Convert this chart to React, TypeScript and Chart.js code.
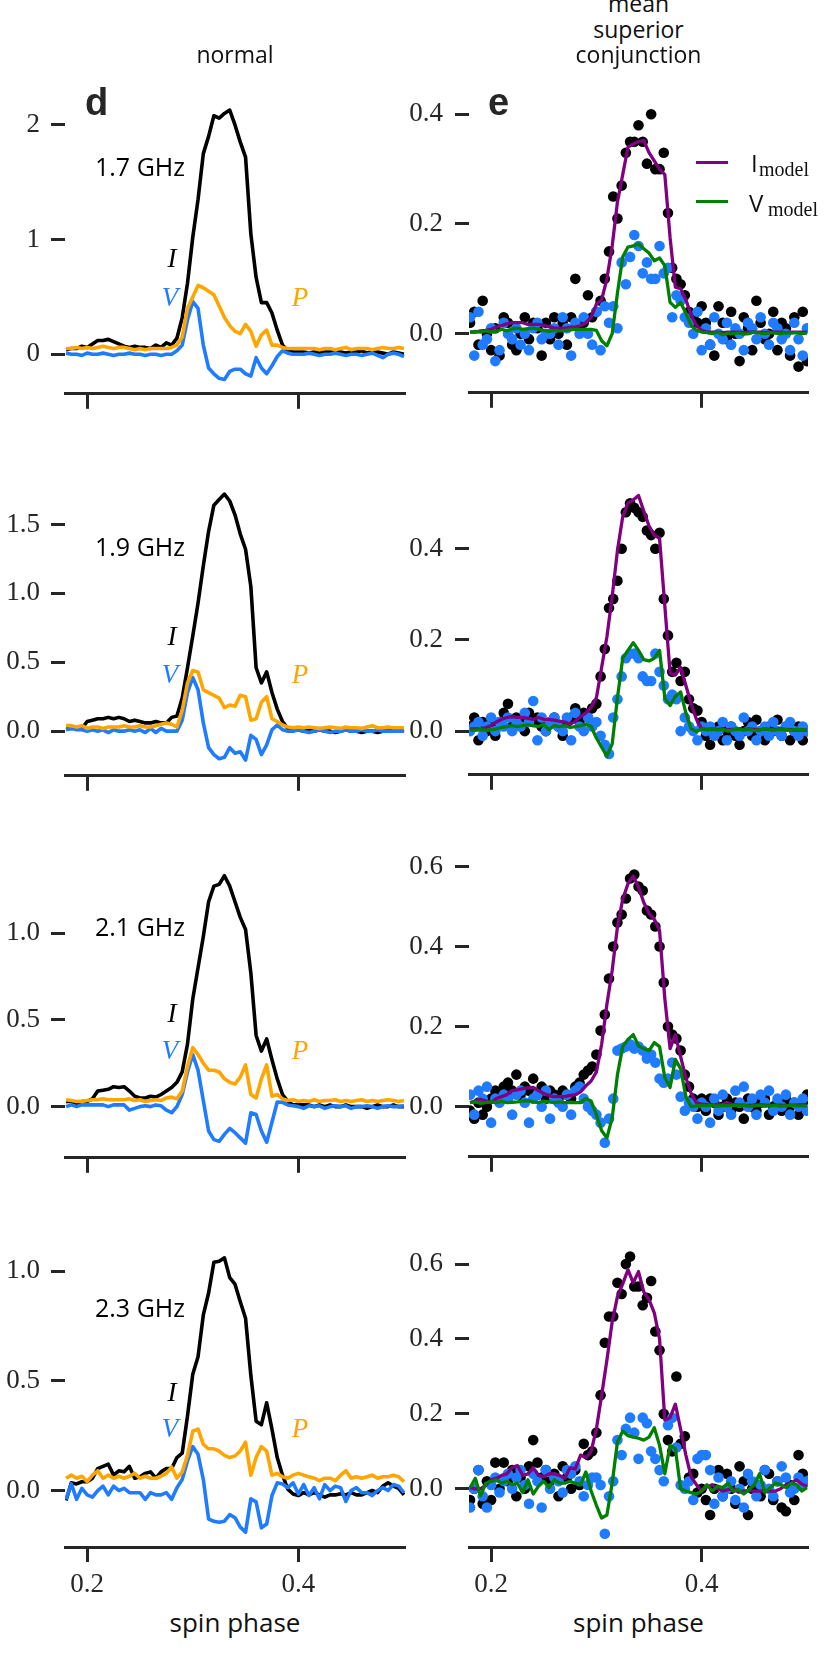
import React, { useEffect, useRef } from "react";
import { Chart, registerables } from "chart.js";

Chart.register(...registerables);

// phase grids: profiles are binned at 0.005, the data points at 0.004
const PHASE_LINE = [
  0.18, 0.185, 0.19, 0.195, 0.2, 0.205, 0.21, 0.215, 0.22, 0.225, 0.23, 0.235, 0.24, 0.245, 0.25, 0.255,
  0.26, 0.265, 0.27, 0.275, 0.28, 0.285, 0.29, 0.295, 0.3, 0.305, 0.31, 0.315, 0.32, 0.325, 0.33, 0.335,
  0.34, 0.345, 0.35, 0.355, 0.36, 0.365, 0.37, 0.375, 0.38, 0.385, 0.39, 0.395, 0.4, 0.405, 0.41, 0.415,
  0.42, 0.425, 0.43, 0.435, 0.44, 0.445, 0.45, 0.455, 0.46, 0.465, 0.47, 0.475, 0.48, 0.485, 0.49, 0.495, 0.5,
];
const PHASE_DOT = [
  0.18, 0.184, 0.188, 0.192, 0.196, 0.2, 0.204, 0.208, 0.212, 0.216, 0.22, 0.224, 0.228, 0.232, 0.236, 0.24,
  0.244, 0.248, 0.252, 0.256, 0.26, 0.264, 0.268, 0.272, 0.276, 0.28, 0.284, 0.288, 0.292, 0.296, 0.3, 0.304,
  0.308, 0.312, 0.316, 0.32, 0.324, 0.328, 0.332, 0.336, 0.34, 0.344, 0.348, 0.352, 0.356, 0.36, 0.364, 0.368,
  0.372, 0.376, 0.38, 0.384, 0.388, 0.392, 0.396, 0.4, 0.404, 0.408, 0.412, 0.416, 0.42, 0.424, 0.428, 0.432,
  0.436, 0.44, 0.444, 0.448, 0.452, 0.456, 0.46, 0.464, 0.468, 0.472, 0.476, 0.48, 0.484, 0.488, 0.492, 0.496, 0.5,
];

const FREQS = ["1.7 GHz", "1.9 GHz", "2.1 GHz", "2.3 GHz"];
const X_TICKS = [0.2, 0.4];
const LEFT_TICKS = [[0, 1, 2], [0, 0.5, 1, 1.5], [0, 0.5, 1], [0, 0.5, 1]];
const RIGHT_TICKS = [[0, 0.2, 0.4], [0, 0.2, 0.4], [0, 0.2, 0.4, 0.6], [0, 0.2, 0.4, 0.6]];

// ---- normal profiles (left column) ----
const I_17 = [
  0.04, 0.05, 0.05, 0.07, 0.06, 0.09, 0.12, 0.12, 0.13, 0.11, 0.09, 0.07, 0.06, 0.07, 0.06, 0.06, 0.05, 0.08, 0.06, 0.1, 0.08,
  0.14, 0.32, 0.62, 1.02, 1.35, 1.75, 1.9, 2.08, 2.06, 2.1, 2.13, 2.0, 1.85, 1.72, 1.05, 0.67, 0.45, 0.45, 0.36, 0.21, 0.08, 0.03, 0.02, 0.02,
  0.02, 0.01, 0.02, 0.01, 0.02, 0.02, 0.03, 0.02, 0.01, 0.02, 0.02, 0.03, 0.01, 0.02, 0.02, 0.01, 0.0, 0.02, 0.01, 0.0,
];
const V_17 = [
  0.01, 0.0, 0.0, -0.01, 0.01, 0.0, 0.0, 0.01, 0.0, -0.01, 0.0, 0.0, 0.01, 0.0, 0.0, -0.01, 0.0, 0.0, -0.01, 0.0, 0.0,
  0.03, 0.08, 0.3, 0.46, 0.4, 0.08, -0.12, -0.17, -0.21, -0.22, -0.15, -0.13, -0.13, -0.17, -0.19, -0.03, -0.12, -0.17, -0.1, -0.02, 0.03, 0.01, 0.0, 0.0,
  0.0, 0.01, 0.0, -0.01, 0.0, 0.0, 0.01, 0.0, -0.01, 0.0, 0.0, -0.01, 0.0, 0.01, -0.01, -0.03, 0.0, 0.01, 0.0, -0.02,
];
const P_17 = [
  0.05, 0.05, 0.06, 0.05, 0.06, 0.05, 0.06, 0.07, 0.06, 0.05, 0.06, 0.06, 0.05, 0.04, 0.05, 0.04, 0.05, 0.05, 0.05, 0.05, 0.06,
  0.08, 0.15, 0.4, 0.5, 0.6, 0.58, 0.55, 0.52, 0.42, 0.32, 0.25, 0.2, 0.18, 0.26, 0.2, 0.07, 0.17, 0.21, 0.08, 0.08, 0.06, 0.05, 0.05, 0.05,
  0.05, 0.05, 0.05, 0.04, 0.05, 0.05, 0.04, 0.05, 0.06, 0.04, 0.05, 0.05, 0.05, 0.04, 0.05, 0.06, 0.05, 0.05, 0.06, 0.05,
];
const I_19 = [
  0.02, 0.02, 0.03, 0.02, 0.07, 0.08, 0.09, 0.09, 0.1, 0.09, 0.1, 0.09, 0.07, 0.08, 0.07, 0.06, 0.06, 0.07, 0.06, 0.06, 0.1,
  0.11, 0.24, 0.46, 0.69, 0.93, 1.2, 1.45, 1.64, 1.68, 1.72, 1.67, 1.57, 1.43, 1.32, 1.05, 0.46, 0.35, 0.43, 0.28, 0.16, 0.07, 0.02, 0.01, 0.01,
  0.0, 0.01, 0.0, 0.01, 0.0, 0.0, -0.01, 0.0, 0.01, 0.0, 0.0, -0.01, 0.0, 0.0, -0.01, 0.0, 0.0, 0.01, 0.0, 0.01,
];
const V_19 = [
  0.01, 0.02, 0.01, 0.01, 0.0, 0.01, 0.0, 0.01, -0.01, 0.01, 0.0, 0.0, 0.01, 0.0, 0.01, -0.01, 0.02, -0.01, 0.02, 0.0, 0.0,
  0.0, 0.08, 0.28, 0.39, 0.3, 0.06, -0.12, -0.17, -0.2, -0.19, -0.12, -0.16, -0.15, -0.21, -0.03, -0.06, -0.17, -0.1, 0.01, 0.045, 0.01, 0.0, 0.0, 0.01,
  0.0, -0.01, 0.0, 0.01, 0.0, -0.01, 0.0, 0.0, 0.01, 0.0, 0.0, 0.01, 0.0, 0.0, 0.01, 0.0, 0.0, 0.0, 0.0, 0.0,
];
const P_19 = [
  0.04, 0.04, 0.03, 0.04, 0.02, 0.03, 0.03, 0.02, 0.03, 0.03, 0.03, 0.04, 0.03, 0.03, 0.04, 0.03, 0.03, 0.04, 0.05, 0.06, 0.05,
  0.03, 0.15, 0.35, 0.44, 0.43, 0.3, 0.28, 0.26, 0.24, 0.17, 0.19, 0.18, 0.26, 0.25, 0.08, 0.09, 0.21, 0.25, 0.09, 0.07, 0.045, 0.03, 0.025, 0.03,
  0.025, 0.03, 0.025, 0.02, 0.025, 0.03, 0.025, 0.02, 0.03, 0.025, 0.025, 0.02, 0.03, 0.04, 0.025, 0.025, 0.03, 0.025, 0.025, 0.025,
];
const I_21 = [
  0.03, 0.03, 0.02, 0.03, 0.03, 0.045, 0.09, 0.095, 0.1, 0.115, 0.11, 0.115, 0.09, 0.06, 0.05, 0.05, 0.06, 0.055, 0.07, 0.09, 0.11,
  0.14, 0.2, 0.36, 0.62, 0.8, 0.98, 1.18, 1.27, 1.28, 1.33, 1.27, 1.18, 1.09, 1.02, 0.77, 0.41, 0.32, 0.39, 0.27, 0.16, 0.07, 0.03, 0.01, 0.01,
  0.01, 0.01, 0.0, 0.01, 0.0, 0.01, 0.0, 0.0, 0.01, 0.0, 0.0, 0.0, -0.01, 0.0, 0.01, 0.0, 0.0, 0.01, 0.0, 0.0,
];
const V_21 = [
  0.0, 0.01, 0.0, 0.01, 0.01, 0.01, 0.01, 0.01, 0.0, 0.01, 0.01, 0.01, -0.02, -0.01, 0.0, 0.005, 0.0, 0.01, 0.005, -0.02, -0.035,
  0.0, 0.07, 0.2, 0.3, 0.21, 0.035, -0.14, -0.19, -0.2, -0.16, -0.125, -0.15, -0.18, -0.21, -0.035, -0.045, -0.14, -0.205, -0.09, 0.027, 0.025, 0.01, 0.005, 0.0,
  -0.01, 0.005, 0.0, 0.005, -0.01, 0.0, 0.005, 0.0, 0.005, -0.01, 0.0, 0.0, 0.005, 0.0, -0.01, 0.0, 0.005, 0.0, 0.0, 0.005,
];
const P_21 = [
  0.04, 0.035, 0.03, 0.03, 0.035, 0.04, 0.04, 0.045, 0.04, 0.04, 0.04, 0.04, 0.045, 0.035, 0.04, 0.03, 0.035, 0.04, 0.035, 0.05, 0.055,
  0.045, 0.09, 0.23, 0.34, 0.3, 0.25, 0.21, 0.21, 0.2, 0.16, 0.14, 0.13, 0.17, 0.24, 0.07, 0.05, 0.16, 0.24, 0.06, 0.07, 0.045, 0.035, 0.04, 0.03,
  0.035, 0.03, 0.04, 0.03, 0.035, 0.035, 0.04, 0.03, 0.035, 0.03, 0.035, 0.04, 0.03, 0.035, 0.03, 0.035, 0.04, 0.035, 0.03, 0.035,
];
const I_23 = [
  -0.045, 0.035, 0.03, 0.04, 0.04, 0.056, 0.1, 0.11, 0.12, 0.07, 0.09, 0.085, 0.11, 0.056, 0.063, 0.078, 0.085, 0.056, 0.085, 0.1, 0.1,
  0.15, 0.17, 0.34, 0.53, 0.61, 0.8, 0.9, 1.04, 1.045, 1.06, 0.97, 0.94, 0.86, 0.785, 0.525, 0.316, 0.3, 0.4, 0.28, 0.15, 0.07, 0.006, -0.016, -0.023,
  -0.01, -0.02, -0.01, -0.02, -0.03, -0.02, -0.02, -0.015, -0.02, -0.01, -0.02, -0.02, -0.01, 0.0, -0.01, 0.02, 0.035, 0.02, 0.01, -0.02,
];
const V_23 = [
  -0.04, 0.03, -0.04, 0.01, -0.02, -0.03, 0.0, 0.02, -0.02, 0.02, 0.0, 0.01, -0.01, -0.01, -0.01, -0.04, -0.01, -0.02, -0.02, -0.01, -0.04,
  0.013, 0.05, 0.135, 0.2, 0.165, 0.05, -0.13, -0.14, -0.145, -0.14, -0.11, -0.124, -0.167, -0.19, -0.038, -0.052, -0.17, -0.153, -0.023, 0.035, 0.03, 0.013, 0.035, -0.016,
  0.027, -0.023, 0.013, -0.038, 0.027, 0.0, 0.02, 0.013, -0.05, 0.0, 0.013, -0.01, -0.01, -0.023, 0.0, 0.013, 0.0, 0.027, 0.02, -0.01,
];
const P_23 = [
  0.056, 0.07, 0.056, 0.065, 0.04, 0.07, 0.09, 0.056, 0.07, 0.056, 0.065, 0.056, 0.065, 0.078, 0.056, 0.065, 0.056, 0.056, 0.065, 0.078, 0.107,
  0.056, 0.085, 0.16, 0.27, 0.28, 0.21, 0.19, 0.19, 0.18, 0.16, 0.15, 0.157, 0.18, 0.22, 0.07, 0.15, 0.2, 0.18, 0.07, 0.078, 0.063, 0.056, 0.07, 0.078,
  0.07, 0.063, 0.056, 0.045, 0.056, 0.056, 0.045, 0.07, 0.09, 0.056, 0.063, 0.056, 0.063, 0.07, 0.056, 0.063, 0.063, 0.07, 0.063, 0.04,
];

// ---- mean superior conjunction (right column): models ----
const IM_17 = [
  0.003, 0.003, 0.005, 0.006, 0.008, 0.012, 0.015, 0.018, 0.02, 0.02, 0.02, 0.017, 0.017, 0.017, 0.015, 0.013, 0.01, 0.01, 0.01, 0.012, 0.012,
  0.015, 0.02, 0.03, 0.054, 0.062, 0.1, 0.16, 0.24, 0.29, 0.34, 0.346, 0.35, 0.352, 0.33, 0.315, 0.3, 0.29, 0.175, 0.085, 0.082, 0.062, 0.034, 0.015, 0.006,
  0.003, 0.003, 0.003, 0.002, 0.003, 0.003, 0.003, 0.002, 0.003, 0.003, 0.003, 0.002, 0.003, 0.003, 0.003, 0.002, 0.003, 0.003, 0.003, 0.003,
];
const VM_17 = [
  0.003, 0.004, 0.003, 0.005, 0.003, 0.004, 0.008, 0.005, 0.009, 0.01, 0.008, 0.009, 0.01, 0.008, 0.006, 0.004, 0.006, 0.005, 0.006, 0.007, 0.008,
  0.008, 0.008, 0.008, 0.006, -0.013, -0.022, 0.0, 0.074, 0.14, 0.158, 0.16, 0.164, 0.155, 0.147, 0.133, 0.138, 0.124, 0.057, 0.048, 0.057, 0.037, 0.015, 0.006, 0.003,
  0.002, 0.0, 0.003, -0.002, 0.001, 0.0, 0.002, -0.001, 0.0, 0.003, 0.001, 0.0, 0.002, 0.001, 0.0, 0.002, 0.001, 0.002, 0.0, 0.001,
];
const IM_19 = [
  0.005, 0.005, 0.005, 0.008, 0.012, 0.02, 0.026, 0.03, 0.032, 0.03, 0.03, 0.028, 0.026, 0.03, 0.026, 0.025, 0.024, 0.022, 0.02, 0.015, 0.022,
  0.032, 0.04, 0.052, 0.073, 0.14, 0.207, 0.295, 0.396, 0.47, 0.5, 0.507, 0.517, 0.483, 0.45, 0.43, 0.423, 0.275, 0.127, 0.123, 0.14, 0.1, 0.06, 0.026, 0.005,
  0.004, 0.005, 0.004, 0.005, 0.003, 0.004, 0.005, 0.004, 0.005, 0.004, 0.003, 0.005, 0.004, 0.004, 0.005, 0.004, 0.003, 0.002, 0.003, 0.002,
];
const VM_19 = [
  0.002, 0.002, 0.003, 0.002, 0.003, 0.005, 0.008, 0.01, 0.012, 0.01, 0.012, 0.014, 0.012, 0.01, 0.015, 0.003, 0.012, 0.01, 0.012, 0.008, 0.01,
  0.012, 0.015, 0.01, -0.015, -0.035, -0.055, -0.028, 0.073, 0.16, 0.177, 0.194, 0.177, 0.157, 0.154, 0.16, 0.177, 0.073, 0.056, 0.076, 0.086, 0.04, 0.005, -0.001, 0.005,
  0.003, 0.005, 0.002, 0.004, 0.0, 0.003, 0.005, 0.002, 0.004, 0.001, 0.003, 0.005, 0.003, 0.002, 0.004, 0.003, 0.002, 0.004, 0.003, 0.002,
];
const IM_21 = [
  0.01, 0.014, 0.018, 0.014, 0.01, 0.02, 0.025, 0.03, 0.04, 0.042, 0.045, 0.047, 0.048, 0.04, 0.033, 0.028, 0.025, 0.025, 0.025, 0.028, 0.03,
  0.037, 0.052, 0.064, 0.087, 0.156, 0.256, 0.34, 0.449, 0.518, 0.557, 0.576, 0.549, 0.51, 0.483, 0.468, 0.44, 0.27, 0.145, 0.18, 0.125, 0.072, 0.033, 0.01, 0.006,
  0.005, 0.004, 0.005, 0.006, 0.008, 0.005, 0.004, 0.004, 0.003, 0.004, 0.005, 0.004, 0.003, 0.004, 0.004, 0.003, 0.004, 0.004, 0.005, 0.004,
];
const VM_21 = [
  0.01, 0.012, 0.008, 0.01, 0.012, 0.01, 0.013, 0.01, 0.011, 0.012, 0.014, 0.015, 0.012, 0.01, 0.014, 0.012, 0.01, 0.012, 0.01, 0.011, 0.01,
  0.01, 0.02, 0.014, -0.02, -0.06, -0.078, -0.028, 0.08, 0.15, 0.168, 0.18, 0.152, 0.145, 0.14, 0.16, 0.15, 0.072, 0.048, 0.118, 0.095, 0.025, 0.0, 0.002, 0.003,
  0.002, 0.003, 0.001, 0.003, 0.002, 0.004, 0.002, 0.003, 0.001, 0.002, 0.003, 0.002, 0.002, 0.003, 0.001, 0.002, 0.003, 0.002, 0.002, 0.002,
];
const IM_23 = [
  0.003, 0.0, 0.0, 0.01, 0.024, 0.028, 0.036, 0.04, 0.057, 0.062, 0.036, 0.04, 0.056, 0.036, 0.032, 0.04, 0.04, 0.036, 0.028, 0.056, 0.053,
  0.09, 0.083, 0.1, 0.16, 0.25, 0.344, 0.446, 0.513, 0.547, 0.585, 0.55, 0.58, 0.526, 0.505, 0.47, 0.4, 0.184, 0.19, 0.226, 0.159, 0.09, 0.032, 0.011, -0.006,
  0.005, 0.011, 0.0, -0.006, -0.002, 0.0, -0.008, -0.006, -0.004, -0.006, -0.006, -0.005, -0.006, -0.006, 0.0, 0.011, 0.015, 0.024, 0.013, 0.007,
];
const VM_23 = [
  0.003, 0.028, -0.019, 0.015, 0.02, 0.024, 0.015, 0.02, 0.011, 0.015, -0.01, 0.024, -0.014, 0.007, 0.02, 0.003, 0.024, 0.015, 0.015, 0.02, 0.015,
  0.011, 0.045, -0.006, -0.044, -0.078, -0.07, 0.015, 0.125, 0.154, 0.142, 0.138, 0.135, 0.13, 0.138, 0.163, 0.116, 0.04, 0.116, 0.108, 0.0, -0.006, -0.01, -0.014, -0.006,
  0.011, -0.006, 0.007, 0.003, 0.015, -0.006, -0.002, -0.014, -0.002, 0.011, 0.04, -0.01, 0.003, 0.015, 0.011, 0.003, 0.015, 0.011, -0.006, 0.003,
];

// ---- mean superior conjunction: measured I and V ----
const ID_17 = [
  0.02, 0.04, -0.02, 0.06, 0.0, -0.03, 0.01, -0.04, 0.03, 0.02, -0.02, -0.03, 0.0, 0.03, -0.01, 0.02, 0.01, -0.04, 0.02, -0.01, 0.03, 0.0, 0.02, -0.02, 0.03, 0.1, 0.01, 0.02, 0.07, 0.03,
  0.04, 0.06, 0.1, 0.15, 0.25, 0.21, 0.27, 0.33, 0.35, 0.35, 0.38, 0.35, 0.31, 0.4, 0.3, 0.3, 0.33, 0.22, 0.12, 0.1, 0.09, 0.07, 0.04, 0.03, 0.02, 0.05,
  0.02, -0.02, -0.04, 0.05, 0.02, -0.01, 0.04, 0.0, -0.05, 0.03, 0.01, -0.03, 0.06, 0.02, -0.01, 0.0, 0.04, -0.03, 0.02, 0.01, -0.04, 0.03, -0.06, 0.04, -0.05,
];
const VD_17 = [
  0.03, -0.04, 0.04, -0.02, -0.01, 0.01, -0.05, -0.03, 0.02, 0.0, -0.01, 0.01, -0.02, 0.0, -0.03, 0.01, 0.02, -0.01, 0.0, 0.0, 0.01, -0.02, 0.03, 0.01, -0.04, 0.02, 0.0, 0.03, 0.0, -0.02,
  0.04, -0.03, 0.05, 0.02, 0.05, 0.01, 0.13, 0.09, 0.14, 0.18, 0.16, 0.11, 0.13, 0.1, 0.1, 0.16, 0.11, 0.12, 0.03, 0.07, 0.06, 0.03, 0.02, 0.0, 0.04, -0.03,
  0.01, -0.02, 0.03, 0.0, -0.01, 0.02, -0.02, 0.01, 0.0, -0.03, 0.02, 0.01, -0.01, 0.03, 0.0, -0.02, 0.02, 0.01, -0.01, 0.0, -0.03, 0.02, -0.01, -0.04, 0.01,
];
const ID_19 = [
  0.01, 0.03, -0.02, 0.02, 0.0, 0.01, -0.01, 0.02, 0.04, 0.06, 0.01, 0.03, 0.02, 0.0, 0.04, 0.02, 0.03, 0.01, 0.0, 0.02, 0.03, 0.01, -0.01, 0.02, 0.03, 0.05, 0.02, 0.04, 0.03, 0.05,
  0.06, 0.12, 0.18, 0.27, 0.29, 0.33, 0.4, 0.48, 0.5, 0.49, 0.48, 0.47, 0.44, 0.43, 0.4, 0.435, 0.29, 0.21, 0.13, 0.15, 0.11, 0.13, 0.07, 0.05, 0.045, 0.02,
  -0.01, -0.03, 0.0, 0.01, -0.02, 0.0, 0.01, -0.01, -0.03, 0.0, 0.02, -0.01, 0.025, 0.0, -0.02, 0.01, 0.0, 0.025, -0.01, 0.01, -0.02, 0.0, 0.01, -0.02, 0.0,
];
const VD_19 = [
  0.0, 0.01, 0.02, -0.01, 0.01, 0.03, 0.0, 0.02, 0.01, 0.03, 0.0, 0.02, 0.01, 0.04, 0.02, 0.066, -0.02, 0.03, 0.0, 0.02, 0.03, 0.01, 0.0, 0.03, -0.02, 0.04, 0.01, 0.0, 0.03, 0.01,
  0.02, -0.01, -0.03, -0.05, 0.03, 0.07, 0.12, 0.16, 0.17, 0.17, 0.16, 0.12, 0.11, 0.11, 0.17, 0.13, 0.1, 0.07, 0.08, 0.07, 0.0, 0.03, 0.01, 0.0, -0.02, 0.01,
  0.0, 0.01, -0.01, 0.0, 0.02, -0.02, 0.01, 0.0, -0.01, 0.03, 0.0, 0.01, -0.02, 0.0, 0.01, -0.01, 0.02, 0.0, -0.01, 0.01, 0.02, 0.0, -0.01, 0.01, 0.0,
];
const ID_21 = [
  -0.01, -0.03, 0.01, -0.02, 0.0, 0.02, 0.04, 0.02, 0.05, 0.06, 0.04, 0.08, 0.03, 0.05, 0.04, 0.07, 0.03, 0.05, 0.02, 0.04, 0.03, 0.02, 0.04, 0.03, 0.02, 0.05, 0.06, 0.08, 0.09, 0.1,
  0.13, 0.19, 0.23, 0.32, 0.4, 0.46, 0.48, 0.52, 0.57, 0.58, 0.55, 0.54, 0.49, 0.48, 0.45, 0.4, 0.31, 0.2, 0.18, 0.17, 0.14, 0.08, 0.05, 0.02, 0.0, 0.02,
  -0.01, 0.02, 0.01, -0.02, 0.0, 0.02, -0.01, 0.01, 0.0, -0.03, 0.02, 0.0, -0.01, 0.01, 0.02, -0.02, 0.0, 0.01, -0.01, 0.02, 0.0, 0.01, -0.02, 0.01, 0.03,
];
const VD_21 = [
  0.03, -0.02, 0.04, 0.02, 0.05, -0.04, 0.02, 0.01, 0.03, 0.02, -0.02, 0.03, 0.04, 0.01, -0.04, 0.02, 0.03, 0.0, 0.04, -0.03, 0.02, 0.01, 0.0, 0.03, -0.02, 0.04, 0.05, 0.02, 0.0, -0.01,
  -0.02, -0.04, -0.09, -0.03, 0.02, 0.14, 0.145, 0.15, 0.156, 0.145, 0.15, 0.14, 0.12, 0.13, 0.11, 0.07, 0.06, 0.07, 0.11, 0.08, 0.025, -0.01, 0.01, 0.0, -0.03, 0.01,
  0.0, -0.04, 0.02, -0.01, 0.03, 0.0, -0.02, 0.04, 0.01, 0.05, 0.0, 0.02, -0.02, 0.03, 0.01, 0.04, -0.01, 0.02, 0.0, 0.03, -0.02, 0.01, 0.0, 0.02, -0.01,
];
const ID_23 = [
  -0.03, 0.0, 0.05, -0.04, 0.02, -0.03, 0.07, 0.0, 0.07, 0.02, 0.05, -0.02, 0.03, 0.0, 0.06, 0.13, 0.07, 0.03, 0.05, 0.02, 0.04, -0.02, 0.06, 0.03, 0.0, 0.05, 0.01, 0.12, 0.09, 0.1,
  0.15, 0.25, 0.39, 0.46, 0.46, 0.55, 0.52, 0.6, 0.62, 0.54, 0.54, 0.49, 0.51, 0.555, 0.42, 0.37, 0.2, 0.13, 0.1, 0.3, 0.12, 0.14, 0.03, 0.04, -0.01, 0.0,
  -0.03, -0.07, 0.0, 0.05, -0.02, 0.04, 0.0, -0.04, 0.06, 0.02, -0.07, 0.0, 0.01, -0.02, 0.05, 0.04, -0.03, 0.02, -0.05, -0.06, 0.01, -0.03, 0.09, 0.04, 0.02,
];
const VD_23 = [
  -0.05, 0.0, 0.05, -0.02, -0.05, 0.01, 0.03, -0.01, 0.02, 0.04, 0.0, 0.03, 0.05, 0.01, -0.04, 0.04, 0.02, -0.05, 0.05, 0.0, 0.03, 0.02, -0.01, 0.05, 0.04, 0.06, 0.02, -0.02, 0.01, 0.03,
  0.03, 0.01, -0.12, -0.02, 0.02, 0.13, 0.09, 0.16, 0.19, 0.15, 0.08, 0.19, 0.175, 0.1, 0.08, 0.05, 0.02, 0.17, 0.19, 0.11, 0.01, 0.0, 0.02, -0.03, 0.08, 0.09,
  0.09, 0.05, -0.04, 0.03, -0.02, 0.0, 0.02, -0.03, 0.0, -0.05, 0.04, 0.02, -0.02, 0.01, 0.05, 0.0, -0.02, 0.02, 0.06, 0.03, -0.01, 0.0, 0.03, 0.01, 0.02,
];

const NORMAL = [
  { I: I_17, V: V_17, P: P_17 },
  { I: I_19, V: V_19, P: P_19 },
  { I: I_21, V: V_21, P: P_21 },
  { I: I_23, V: V_23, P: P_23 },
];
const SUPCONJ = [
  { I: ID_17, V: VD_17, IM: IM_17, VM: VM_17 },
  { I: ID_19, V: VD_19, IM: IM_19, VM: VM_19 },
  { I: ID_21, V: VD_21, IM: IM_21, VM: VM_21 },
  { I: ID_23, V: VD_23, IM: IM_23, VM: VM_23 },
];

// ---- layout ----
const AXIS_Y = [401, 783, 1165, 1547]; // x-axis spine of each row
const LEFT_YLIM = [[-0.3447, 2.2506], [-0.3239, 1.8354], [-0.2946, 1.4194], [-0.2574, 1.1315]];
const RIGHT_YLIM = [[-0.1078, 0.4312], [-0.0958, 0.5526], [-0.1253, 0.6132], [-0.1554, 0.6558]];
const X_MIN = 0.179;
const X_MAX = 0.501;

const INK = "#262626";
const BLACK = "#000000";
const BLUE = "#1f7bff";
const ORANGE = "#ffa500";
const PURPLE = "#800080";
const GREEN = "#008000";
const SERIF = "'Liberation Serif', 'DejaVu Serif', serif";
const SANS = "'Open Sans', 'Noto Sans', sans-serif";

const zip = (xs: number[], ys: number[]) => ys.map((y, i) => ({ x: xs[i], y }));

interface PanelProps {
  left: number;
  top: number;
  width: number;
  height: number;
  axisWidth: number;
  padRight: number;
  xAxisHeight: number;
  yMin: number;
  yMax: number;
  yTicks: number[];
  yDigits: number;
  yPad: number;
  showXLabels: boolean;
  datasets: any[];
}

const Panel: React.FC<PanelProps> = (p) => {
  const canvasRef = useRef<HTMLCanvasElement>(null);

  useEffect(() => {
    if (!canvasRef.current) return;
    const chart = new Chart(canvasRef.current, {
      type: "scatter",
      data: { datasets: p.datasets },
      options: {
        responsive: false,
        animation: false,
        events: [],
        layout: { padding: { top: 12, right: p.padRight, left: 0, bottom: 0 }, autoPadding: false },
        plugins: { legend: { display: false }, tooltip: { enabled: false } },
        scales: {
          x: {
            type: "linear",
            min: X_MIN,
            max: X_MAX,
            border: { display: true, color: INK, width: 3 },
            grid: { drawOnChartArea: false, drawTicks: true, tickLength: 15, tickWidth: 3, tickColor: INK },
            ticks: {
              display: p.showXLabels,
              autoSkip: false,
              maxRotation: 0,
              padding: 7,
              color: INK,
              font: { family: SERIF, size: 27 },
              callback: (v: any) => Number(v).toFixed(1),
            },
            afterBuildTicks: (s: any) => {
              s.ticks = X_TICKS.map((value) => ({ value }));
            },
            afterFit: (s: any) => {
              s.height = p.xAxisHeight;
            },
          },
          y: {
            type: "linear",
            min: p.yMin,
            max: p.yMax,
            border: { display: false },
            grid: { drawOnChartArea: false, drawTicks: true, tickLength: 14, tickWidth: 3, tickColor: INK },
            ticks: {
              autoSkip: false,
              padding: p.yPad,
              color: INK,
              font: { family: SERIF, size: 27 },
              callback: (v: any) => Number(v).toFixed(p.yDigits),
            },
            afterBuildTicks: (s: any) => {
              s.ticks = p.yTicks.map((value) => ({ value }));
            },
            afterFit: (s: any) => {
              s.width = p.axisWidth;
            },
          },
        },
      } as any,
    });
    return () => chart.destroy();
  }, []);

  return (
    <canvas
      ref={canvasRef}
      width={p.width}
      height={p.height}
      style={{ position: "absolute", left: p.left, top: p.top, width: p.width, height: p.height }}
    />
  );
};

// text placed by its baseline; k = baseline offset of the font for line-height 1
const Txt: React.FC<{
  x: number;
  base: number;
  size: number;
  font: "sans" | "serif" | "bold";
  center?: boolean;
  color?: string;
  italic?: boolean;
  children: React.ReactNode;
}> = ({ x, base, size, font, center, color = "#111", italic, children }) => {
  const family = font === "sans" ? SANS : font === "serif" ? SERIF : "'Liberation Sans', Arial, sans-serif";
  const k = font === "sans" ? 0.888 : font === "serif" ? 0.8375 : 0.8465;
  return (
    <div
      style={{
        position: "absolute",
        left: x,
        top: base - k * size,
        fontFamily: family,
        fontSize: size,
        lineHeight: `${size}px`,
        fontWeight: font === "bold" ? 700 : 400,
        fontStyle: italic ? "italic" : "normal",
        color,
        whiteSpace: "nowrap",
        transform: center ? "translateX(-50%)" : undefined,
      }}
    >
      {children}
    </div>
  );
};

const lineSet = (label: string, xs: number[], ys: number[], color: string, width: number) => ({
  label,
  data: zip(xs, ys),
  showLine: true,
  borderColor: color,
  borderWidth: width,
  borderJoinStyle: "round",
  pointRadius: 0,
  tension: 0,
  clip: 0,
});

const dotSet = (label: string, xs: number[], ys: number[], color: string) => ({
  label,
  data: zip(xs, ys),
  showLine: false,
  pointRadius: 5.3,
  pointBackgroundColor: color,
  pointBorderWidth: 0,
  clip: 0,
});

const I_BASE = [268, 646, 1023, 1402];
const V_BASE = [307, 684, 1060, 1438];
const FREQ_BASE = [176, 556, 936, 1317];

export default function App() {
  return (
    <div
      style={{
        position: "absolute",
        left: 0,
        top: 0,
        width: 832,
        height: 1663,
        background: "#ffffff",
        overflow: "hidden",
      }}
    >
      {AXIS_Y.map((a, r) => {
        const last = r === AXIS_Y.length - 1;
        const top = a - 332;
        const height = last ? 1600 - top : 352;
        const xAxisHeight = height - 332;
        const n = NORMAL[r];
        const s = SUPCONJ[r];
        return (
          <React.Fragment key={r}>
            <Panel
              left={0}
              top={top}
              width={416}
              height={height}
              axisWidth={65}
              padRight={11}
              xAxisHeight={xAxisHeight}
              yMin={LEFT_YLIM[r][0]}
              yMax={LEFT_YLIM[r][1]}
              yTicks={LEFT_TICKS[r]}
              yDigits={r === 0 ? 0 : 1}
              yPad={11}
              showXLabels={last}
              datasets={[
                lineSet("P", PHASE_LINE, n.P, ORANGE, 3.6),
                lineSet("V", PHASE_LINE, n.V, BLUE, 3.6),
                lineSet("I", PHASE_LINE, n.I, BLACK, 3.6),
              ]}
            />
            <Panel
              left={400}
              top={top}
              width={432}
              height={height}
              axisWidth={69}
              padRight={24}
              xAxisHeight={xAxisHeight}
              yMin={RIGHT_YLIM[r][0]}
              yMax={RIGHT_YLIM[r][1]}
              yTicks={RIGHT_TICKS[r]}
              yDigits={1}
              yPad={12}
              showXLabels={last}
              datasets={[
                lineSet("V model", PHASE_LINE, s.VM, GREEN, 3.3),
                lineSet("I model", PHASE_LINE, s.IM, PURPLE, 3.3),
                dotSet("V", PHASE_DOT, s.V, BLUE),
                dotSet("I", PHASE_DOT, s.I, BLACK),
              ]}
            />
            <Txt x={95} base={FREQ_BASE[r]} size={25} font="sans" color="#000">
              {FREQS[r]}
            </Txt>
            <Txt x={172} base={I_BASE[r]} size={27} font="serif" italic center color={BLACK}>
              I
            </Txt>
            <Txt x={170} base={V_BASE[r]} size={27} font="serif" italic center color={BLUE}>
              V
            </Txt>
            <Txt x={300} base={V_BASE[r]} size={27} font="serif" italic center color={ORANGE}>
              P
            </Txt>
          </React.Fragment>
        );
      })}

      <Txt x={235} base={63.5} size={23} font="sans" center>
        normal
      </Txt>
      <Txt x={638.5} base={12.5} size={23} font="sans" center>
        mean
      </Txt>
      <Txt x={638.5} base={38} size={23} font="sans" center>
        superior
      </Txt>
      <Txt x={638.5} base={63.5} size={23} font="sans" center>
        conjunction
      </Txt>

      <Txt x={85} base={115} size={38} font="bold" color={INK}>
        d
      </Txt>
      <Txt x={488} base={115} size={38} font="bold" color={INK}>
        e
      </Txt>

      {/* legend of panel e */}
      <div style={{ position: "absolute", left: 696, top: 160.5, width: 32, height: 3.3, background: PURPLE }} />
      <div style={{ position: "absolute", left: 696, top: 199.5, width: 32, height: 3.3, background: GREEN }} />
      <Txt x={751} base={172} size={24} font="sans" color="#111">
        I
      </Txt>
      <Txt x={759} base={176} size={20} font="serif" color="#111">
        model
      </Txt>
      <Txt x={749} base={212} size={24} font="sans" color="#111">
        V
      </Txt>
      <Txt x={768} base={216} size={20} font="serif" color="#111">
        model
      </Txt>

      <Txt x={235} base={1632} size={26} font="sans" center>
        spin phase
      </Txt>
      <Txt x={638.5} base={1632} size={26} font="sans" center>
        spin phase
      </Txt>
    </div>
  );
}
